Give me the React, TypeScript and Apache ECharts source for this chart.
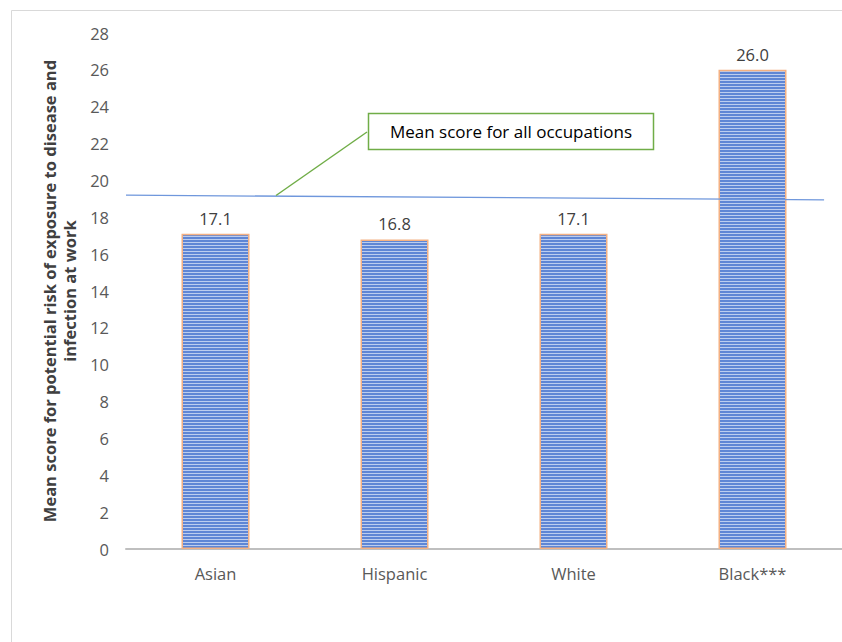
import React, { useEffect, useRef } from "react";
import * as echarts from "echarts";

const CATEGORIES = ["Asian", "Hispanic", "White", "Black***"];
const SCORES = [17.1, 16.8, 17.1, 26.0];
// Reference line for the mean over all occupations (x in category-index units)
const MEAN_LINE: [number, number][] = [
  [-0.5, 19.2],
  [3.4, 18.95],
];
const Y_TICKS = { min: 0, max: 28, interval: 2 };
const Y_TITLE = "Mean score for potential risk of exposure to disease and\ninfection at work";
const CALLOUT_TEXT = "Mean score for all occupations";

const FONT = "'Open Sans', 'Noto Sans', sans-serif";

function stripePattern(): string {
  const c = document.createElement("canvas");
  c.width = 4;
  c.height = 3;
  const ctx = c.getContext("2d")!;
  ctx.fillStyle = "#5f86d5";
  ctx.fillRect(0, 0, 4, 2);
  ctx.fillStyle = "#bccdef";
  ctx.fillRect(0, 2, 4, 1);
  return c.toDataURL();
}

export default function App() {
  const ref = useRef<HTMLDivElement>(null);

  useEffect(() => {
    if (!ref.current) return;
    const chart = echarts.init(ref.current, undefined, { renderer: "svg" });
    const pattern = stripePattern();

    chart.setOption({
      animation: false,
      backgroundColor: "#ffffff",
      grid: { left: 126, right: 0, top: 33, bottom: 93, containLabel: false },
      xAxis: [
        {
          type: "category",
          data: CATEGORIES,
          axisLine: { lineStyle: { color: "#bfbfbf", width: 2 } },
          axisTick: { show: false },
          axisLabel: { color: "#595959", fontSize: 16.5, fontFamily: FONT, margin: 16 },
        },
        {
          type: "value",
          min: -0.5,
          max: 3.5,
          show: false,
        },
      ],
      yAxis: {
        type: "value",
        min: Y_TICKS.min,
        max: Y_TICKS.max,
        interval: Y_TICKS.interval,
        axisLine: { show: false },
        axisTick: { show: false },
        splitLine: { show: false },
        axisLabel: { color: "#595959", fontSize: 16.5, fontFamily: FONT, margin: 17 },
        name: Y_TITLE,
        nameLocation: "middle",
        nameRotate: 90,
        nameGap: 46,
        nameTextStyle: {
          color: "#404040",
          fontSize: 16.5,
          fontWeight: "bold",
          fontFamily: FONT,
          lineHeight: 20,
          align: "center",
        },
      },
      series: [
        {
          type: "bar",
          data: SCORES,
          barWidth: "38%",
          itemStyle: {
            color: { image: pattern, repeat: "repeat" },
            borderColor: "#f4b183",
            borderWidth: 1.5,
          },
          label: {
            show: true,
            position: "top",
            distance: 7,
            color: "#404040",
            fontSize: 16.5,
            fontFamily: FONT,
            formatter: (p: any) => Number(p.value).toFixed(1),
          },
        },
        {
          type: "line",
          xAxisIndex: 1,
          data: MEAN_LINE,
          symbol: "none",
          lineStyle: { color: "#6f97dc", width: 1.3 },
          z: 5,
        },
      ],
      graphic: [
        {
          type: "rect",
          shape: { x: 11.5, y: 10.5, width: 900, height: 700 },
          style: { fill: "none", stroke: "#d9d9d9", lineWidth: 1 },
          silent: true,
        },
        {
          type: "line",
          shape: { x1: 276, y1: 195.5, x2: 367, y2: 132 },
          style: { stroke: "#70ad47", lineWidth: 1.5 },
          z: 10,
        },
        {
          type: "rect",
          shape: { x: 368.5, y: 113.5, width: 285, height: 36 },
          style: { fill: "#ffffff", stroke: "#70ad47", lineWidth: 1.5 },
          z: 10,
        },
        {
          type: "text",
          x: 511,
          y: 131.5,
          style: {
            text: CALLOUT_TEXT,
            fill: "#000000",
            font: `17px ${FONT}`,
            align: "center",
            verticalAlign: "middle",
          },
          z: 11,
        },
      ],
    });

    return () => chart.dispose();
  }, []);

  return (
    <div
      ref={ref}
      style={{ position: "fixed", left: 0, top: 0, width: 842, height: 642 }}
    />
  );
}
